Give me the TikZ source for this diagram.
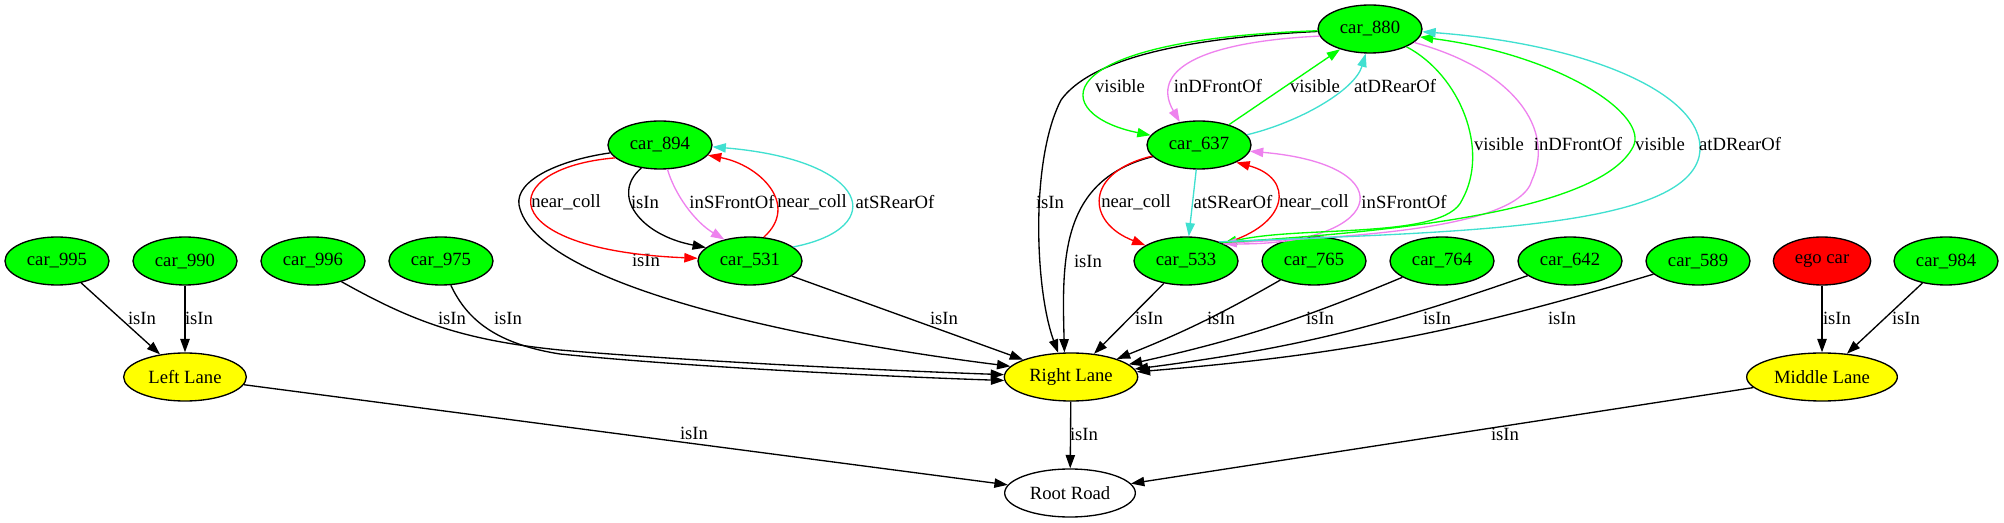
\documentclass[tikz,border=0pt]{standalone}
\usepackage{fontspec}
\setmainfont{Liberation Serif}
\usetikzlibrary{shapes.geometric, arrows.meta}
\definecolor{gvgreen}{HTML}{00FF00}
\definecolor{gvred}{HTML}{FF0000}
\definecolor{gvyellow}{HTML}{FFFF00}
\definecolor{gvviolet}{HTML}{EE82EE}
\definecolor{gvturq}{HTML}{40E0D0}
\begin{document}
\begin{tikzpicture}[x=0.75pt, y=-0.75pt,
  every node/.style={font=\fontsize{14}{16}\selectfont},
  gnode/.style={ellipse, draw=black, line width=1pt, inner sep=0pt, minimum height=36pt, minimum width=78pt},
  car/.style={gnode, fill=gvgreen},
  lane/.style={gnode, fill=gvyellow},
  gvedge/.style={line width=1pt, -{Triangle[length=10pt,width=7pt]}},
  lbl/.style={inner sep=0pt}
]
\useasboundingbox (0,0) rectangle (2004,523);

% nodes
\node[car] (c880) at (1370,29) {car\_880};
\node[car] (c894) at (660,145) {car\_894};
\node[car] (c637) at (1199,145) {car\_637};
\node[car] (c995) at (57,261) {car\_995};
\node[car] (c990) at (185,261) {car\_990};
\node[car] (c996) at (313,261) {car\_996};
\node[car] (c975) at (441,261) {car\_975};
\node[car] (c531) at (750,261) {car\_531};
\node[car] (c533) at (1186,261) {car\_533};
\node[car] (c765) at (1314,261) {car\_765};
\node[car] (c764) at (1442,261) {car\_764};
\node[car] (c642) at (1570,261) {car\_642};
\node[car] (c589) at (1698,261) {car\_589};
\node[gnode, fill=gvred, minimum width=73pt] (ego) at (1822,261) {ego car};
\node[car] (c984) at (1946,261) {car\_984};
\node[lane, minimum width=92pt] (LL) at (185,377) {Left Lane};
\node[lane, minimum width=100pt] (RL) at (1071,377) {Right Lane};
\node[lane, minimum width=113pt] (ML) at (1822,377) {Middle Lane};
\node[gnode, minimum width=98pt] (RR) at (1070,493) {Root Road};

% lanes and road
\draw[gvedge] (c995) -- (LL);
\node[lbl] at (142,318) {isIn};
\draw[gvedge] (c990) -- (LL);
\node[lbl] at (199,318) {isIn};
\draw[gvedge] (LL) -- (RR);
\node[lbl] at (694,433) {isIn};
\draw[gvedge] (RL) -- (RR);
\node[lbl] at (1084,434) {isIn};
\draw[gvedge] (ML) -- (RR);
\node[lbl] at (1505,434) {isIn};
\draw[gvedge] (ego) -- (ML);
\node[lbl] at (1837,318) {isIn};
\draw[gvedge] (c984) -- (ML);
\node[lbl] at (1906,318) {isIn};

% left cars to right lane
\draw[gvedge] (c996.-36) .. controls (410,320) and (460,340) .. (560,350) .. controls (700,362) and (900,371) .. (RL.178);
\node[lbl] at (452,318) {isIn};
\draw[gvedge] (c975.-68) .. controls (465,315) and (490,343) .. (560,354) .. controls (700,368) and (900,377) .. (RL.183);
\node[lbl] at (508,318) {isIn};

% car_894 / car_531 group
\draw[gvedge] (c894.189) .. controls (560,160) and (515,180) .. (519,205) .. controls (535,285) and (800,340) .. (RL.170);
\node[lbl] at (646,260) {isIn};
\draw[gvedge, gvred] (c894.196) .. controls (495,168) and (490,250) .. (c531.177);
\node[lbl] at (566,202) {near\_coll};
\draw[gvedge] (c894.231) .. controls (610,195) and (640,235) .. (c531.163);
\node[lbl] at (645,202) {isIn};
\draw[gvedge, gvviolet] (c894.-73) .. controls (675,195) and (695,222) .. (c531.140);
\node[lbl] at (732,202) {inSFrontOf};
\draw[gvedge, gvred] (c531.60) .. controls (800,205) and (760,165) .. (c894.-12);
\node[lbl] at (812,202) {near\_coll};
\draw[gvedge, gvturq] (c531.18) .. controls (890,228) and (870,160) .. (c894.-2);
\node[lbl] at (895,202) {atSRearOf};
\draw[gvedge] (c531) -- (RL);
\node[lbl] at (944,318) {isIn};

% car_880 / car_637 / car_533 group
\draw[gvedge] (c880) .. controls (1180,38) and (1090,60) .. (1061,100) .. controls (1030,160) and (1035,290) .. (RL.118);
\node[lbl] at (1050,202) {isIn};
\draw[gvedge, gvgreen] (c880) .. controls (1040,40) and (1050,115) .. (c637);
\node[lbl] at (1120,86) {visible};
\draw[gvedge, gvviolet] (c880.188) .. controls (1200,42) and (1150,70) .. (c637.130);
\node[lbl] at (1218,86) {inDFrontOf};
\draw[gvedge, gvgreen] (c637) -- (c880);
\node[lbl] at (1315,86) {visible};
\draw[gvedge, gvturq] (c637.12) .. controls (1300,122) and (1355,90) .. (c880.-100);
\node[lbl] at (1395,86) {atDRearOf};
\draw[gvedge] (c637) .. controls (1060,180) and (1062,260) .. (RL.105);
\node[lbl] at (1088,261) {isIn};
\draw[gvedge, gvred] (c637) .. controls (1085,172) and (1085,222) .. (c533);
\node[lbl] at (1136,202) {near\_coll};
\draw[gvedge, gvturq] (c637) -- (c533);
\node[lbl] at (1233,202) {atSRearOf};
\draw[gvedge, gvred] (c533.25) .. controls (1290,225) and (1295,178) .. (c637.-25);
\node[lbl] at (1314,202) {near\_coll};
\draw[gvedge, gvviolet] (c533.25) .. controls (1385,250) and (1410,165) .. (c637.-7);
\node[lbl] at (1404,202) {inSFrontOf};
\draw[gvedge, gvgreen] (c880.-26) .. controls (1460,75) and (1490,150) .. (1462,200) .. controls (1445,240) and (1300,225) .. (c533.25);
\node[lbl] at (1499,144) {visible};
\draw[gvedge, gvviolet] (c880.-17) .. controls (1515,70) and (1555,130) .. (1532,180) .. controls (1518,235) and (1300,238) .. (c533.25);
\node[lbl] at (1578,144) {inDFrontOf};
\draw[gvedge, gvgreen] (c533.28) .. controls (1400,232) and (1600,210) .. (1633,147) .. controls (1650,115) and (1560,55) .. (c880.-9);
\node[lbl] at (1660,144) {visible};
\draw[gvedge, gvturq] (c533.30) .. controls (1450,232) and (1680,230) .. (1699,157) .. controls (1712,100) and (1600,45) .. (c880.-3);
\node[lbl] at (1740,144) {atDRearOf};

% right cars to right lane
\draw[gvedge] (c533) -- (RL);
\node[lbl] at (1149,318) {isIn};
\draw[gvedge] (c765) to[bend left=4] (RL);
\node[lbl] at (1221,318) {isIn};
\draw[gvedge] (c764) to[bend left=5] (RL);
\node[lbl] at (1320,318) {isIn};
\draw[gvedge] (c642) to[bend left=6] (RL);
\node[lbl] at (1437,318) {isIn};
\draw[gvedge] (c589) to[bend left=6] (RL);
\node[lbl] at (1562,318) {isIn};
\end{tikzpicture}
\end{document}
